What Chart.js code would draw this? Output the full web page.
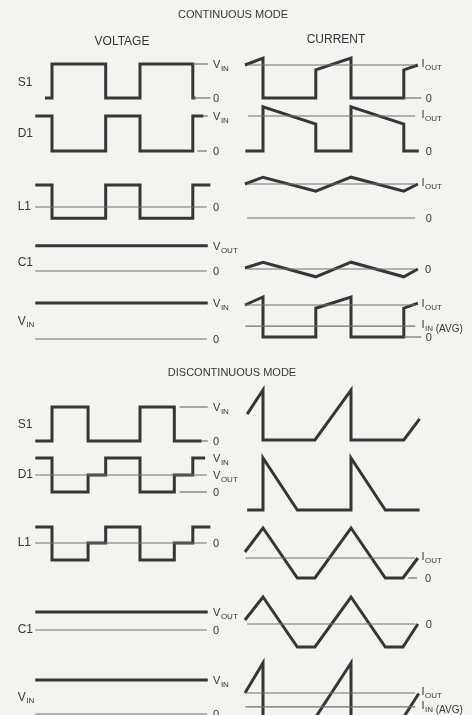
<!DOCTYPE html>
<html>
<head>
<meta charset="utf-8">
<script src="https://cdn.jsdelivr.net/npm/chart.js@4.4.1/dist/chart.umd.min.js"></script>
<style>
  html, body { margin: 0; padding: 0; background: #f3f3f1; }
  #wave { display: block; }
</style>
</head>
<body>
<canvas id="wave" width="472" height="715"></canvas>
<script>
// time axis: one switching period = 1, t = 0 at the switch turn-off edge
// voltages in units of V_IN, currents in units of I_OUT

// ---- continuous mode, voltage ----
const ccmS1V  = [[-0.08,0],[0,0],[0,1],[0.61,1],[0.61,0],[1,0],[1,1],[1.6,1],[1.6,0],[1.63,0]];
const ccmD1V  = [[-0.19,1],[0,1],[0,0],[0.61,0],[0.61,1],[1,1],[1,0],[1.6,0],[1.6,1],[1.72,1]];
const ccmL1V  = [[-0.19,0.65],[0,0.65],[0,-0.33],[0.61,-0.33],[0.61,0.65],[1,0.65],[1,-0.33],[1.6,-0.33],[1.6,0.65],[1.8,0.65]];
const ccmC1V  = [[-0.19,0.74],[1.77,0.74]];
const ccmVinV = [[-0.19,1],[1.77,1]];

// ---- continuous mode, current ----
const ccmS1I  = [[-0.205,1],[0,1.21],[0,0],[0.6,0],[0.6,0.85],[1,1.21],[1,0],[1.6,0],[1.6,0.85],[1.76,1]];
const ccmD1I  = [[-0.2,0],[0,0],[0,1.26],[0.6,0.77],[0.6,0],[1,0],[1,1.26],[1.6,0.77],[1.6,0],[1.77,0]];
const ccmL1I  = [[-0.205,1],[0,1.2],[0.6,0.79],[1,1.2],[1.6,0.79],[1.76,1]];
const ccmC1I  = [[-0.205,0.03],[0,0.2],[0.6,-0.23],[1,0.2],[1.6,-0.23],[1.76,0]];
const ccmVinI = [[-0.205,1],[0,1.25],[0,0],[0.6,0],[0.6,0.9],[1,1.25],[1,0],[1.6,0],[1.6,0.9],[1.76,1.06]];

// ---- discontinuous mode, voltage ----
const dcmS1V  = [[-0.19,0],[0,0],[0,1],[0.41,1],[0.41,0],[1,0],[1,1],[1.39,1],[1.39,0],[1.7,0]];
const dcmD1V  = [[-0.19,1],[0,1],[0,0],[0.41,0],[0.41,0.5],[0.61,0.5],[0.61,1],[1,1],[1,0],[1.39,0],[1.39,0.5],[1.6,0.5],[1.6,1],[1.74,1]];
const dcmL1V  = [[-0.19,0.47],[0,0.47],[0,-0.5],[0.41,-0.5],[0.41,0],[0.61,0],[0.61,0.47],[1,0.47],[1,-0.5],[1.39,-0.5],[1.39,0],[1.6,0],[1.6,0.47],[1.8,0.47]];
const dcmC1V  = [[-0.19,0.53],[1.77,0.53]];
const dcmVinV = [[-0.19,1],[1.77,1]];

// ---- discontinuous mode, current ----
const dcmS1I  = [[-0.18,0.76],[0,1.47],[0,0],[0.59,0],[1,1.47],[1,0],[1.6,0],[1.78,0.62]];
const dcmD1I  = [[-0.18,0],[0,0],[0,1.53],[0.39,0],[1,0],[1,1.53],[1.39,0],[1.78,0]];
const dcmL1I  = [[-0.205,1.3],[0,2.5],[0.39,0],[0.59,0],[1,2.5],[1.39,0],[1.59,0],[1.76,1]];
const dcmC1I  = [[-0.205,0.2],[0,1.35],[0.39,-1.15],[0.59,-1.15],[1,1.35],[1.39,-1.15],[1.59,-1.15],[1.76,0]];
const dcmVinI = [[-0.205,1],[0,2.25],[0,0],[0.6,0],[1,2.25],[1,0],[1.6,0],[1.77,0.98]];

// reference levels
const iInAvgCcm = 0.34;
const iInAvgDcm = 0.42;

const INK = '#363636';
const THIN = '#707070';
const FONT = '"Liberation Sans Narrow", "Liberation Sans", Arial, sans-serif';

const W = 472, H = 715;
const PERIOD_PX = 88;
const colStart = { xL: 52, xR: 263 };   // where t = 0 falls in each column
const tagT = { xL: 1.83, xR: 1.8 };
const rowLabelT = -0.39;

// tag helpers
const V = (sub, level) => ({ text: 'V', sub, level });
const I = (sub, level, tail) => ({ text: 'I', sub, level, tail });
const Z = (level = 0, dt = 0) => ({ text: '0', level, dt });

// panel layout: zero = pixel row of level 0, unit = pixels per unit
const panels = [
  // continuous, voltage column
  { id: 'cS1v', col: 'xL', zero: 98,  unit: 34, trace: ccmS1V, refs: [[1,1.6,1.77],[0,1.6,1.8]], tags: [V('IN',1), Z()], row: ['S1', null, 0.45] },
  { id: 'cD1v', col: 'xL', zero: 151, unit: 35, trace: ccmD1V, refs: [[1,1.72,1.77],[0,1.65,1.76]], tags: [V('IN',1), Z()], row: ['D1', null, 0.5] },
  { id: 'cL1v', col: 'xL', zero: 207, unit: 34, trace: ccmL1V, refs: [[0,-0.19,1.76]], tags: [Z()], row: ['L1', null, 0] },
  { id: 'cC1v', col: 'xL', zero: 271, unit: 34, trace: ccmC1V, refs: [[0,-0.19,1.76]], tags: [V('OUT',0.74), Z()], row: ['C1', null, 0.24] },
  { id: 'cVIv', col: 'xL', zero: 339, unit: 36, trace: ccmVinV, refs: [[0,-0.19,1.76]], tags: [V('IN',1), Z()], row: ['V', 'IN', 0.47] },
  // continuous, current column
  { id: 'cS1i', col: 'xR', zero: 98,  unit: 33, trace: ccmS1I, refs: [[1,-0.17,1.73],[0,1.6,1.8]], tags: [I('OUT',1), Z(0,0.05)] },
  { id: 'cD1i', col: 'xR', zero: 151, unit: 35, trace: ccmD1I, refs: [[1,-0.17,1.73]], tags: [I('OUT',1), Z(0,0.05)] },
  { id: 'cL1i', col: 'xR', zero: 218, unit: 34, trace: ccmL1I, refs: [[1,-0.17,1.73],[0,-0.18,1.73]], tags: [I('OUT',1), Z(0,0.05)] },
  { id: 'cC1i', col: 'xR', zero: 269, unit: 34, trace: ccmC1I, refs: [[0,-0.18,1.73]], tags: [Z(0,0.04)] },
  { id: 'cVIi', col: 'xR', zero: 337, unit: 32, trace: ccmVinI, refs: [[1,-0.2,1.73],[iInAvgCcm,-0.2,1.73],[0,1.6,1.8]], tags: [I('OUT',1), I('IN',iInAvgCcm,' (AVG)'), Z(0,0.05)] },
  // discontinuous, voltage column
  { id: 'dS1v', col: 'xL', zero: 441, unit: 34, trace: dcmS1V, refs: [[1,1.45,1.77],[0,1.7,1.77]], tags: [V('IN',1), Z()], row: ['S1', null, 0.47] },
  { id: 'dD1v', col: 'xL', zero: 492, unit: 34, trace: dcmD1V, refs: [[0.5,-0.19,1.76],[0,1.45,1.76]], tags: [V('IN',1), V('OUT',0.5), Z()], row: ['D1', null, 0.5] },
  { id: 'dL1v', col: 'xL', zero: 543, unit: 34, trace: dcmL1V, refs: [[0,-0.19,1.76]], tags: [Z()], row: ['L1', null, 0] },
  { id: 'dC1v', col: 'xL', zero: 630, unit: 34, trace: dcmC1V, refs: [[0,-0.19,1.76]], tags: [V('OUT',0.53), Z()], row: ['C1', null, 0] },
  { id: 'dVIv', col: 'xL', zero: 714, unit: 34, trace: dcmVinV, refs: [[0,-0.19,1.76]], tags: [V('IN',1), Z()], row: ['V', 'IN', 0.47] },
  // discontinuous, current column
  { id: 'dS1i', col: 'xR', zero: 440, unit: 34, trace: dcmS1I, refs: [], tags: [] },
  { id: 'dD1i', col: 'xR', zero: 510, unit: 34, trace: dcmD1I, refs: [], tags: [] },
  { id: 'dL1i', col: 'xR', zero: 578, unit: 20, trace: dcmL1I, refs: [[1,-0.2,1.73],[0,1.65,1.75]], tags: [I('OUT',1), Z(0,0.04)] },
  { id: 'dC1i', col: 'xR', zero: 624, unit: 20, trace: dcmC1I, refs: [[0,-0.18,1.73]], tags: [Z(0,0.05)] },
  { id: 'dVIi', col: 'xR', zero: 717, unit: 24, trace: dcmVinI, refs: [[1,-0.2,1.73],[iInAvgDcm,-0.2,1.73]], tags: [I('OUT',1), I('IN',iInAvgDcm,' (AVG)')] }
];

const headings = [
  { text: 'CONTINUOUS MODE', x: 233, y: 15, size: 11 },
  { text: 'VOLTAGE', x: 122, y: 42, size: 12 },
  { text: 'CURRENT', x: 336, y: 40, size: 12 },
  { text: 'DISCONTINUOUS MODE', x: 232, y: 373, size: 11 }
];

const toXY = pts => pts.map(([x, y]) => ({ x, y }));

const datasets = [];
const scales = {};
for (const key of ['xL', 'xR']) {
  scales[key] = {
    type: 'linear', axis: 'x', display: false,
    min: -colStart[key] / PERIOD_PX,
    max: (W - colStart[key]) / PERIOD_PX
  };
}
panels.forEach(p => {
  scales[p.id] = {
    type: 'linear', axis: 'y', display: false,
    min: (p.zero - H) / p.unit,
    max: p.zero / p.unit
  };
  p.refs.forEach(([lvl, t0, t1]) => {
    datasets.push({
      data: toXY([[t0, lvl], [t1, lvl]]),
      xAxisID: p.col, yAxisID: p.id,
      borderColor: THIN, borderWidth: 1.2
    });
  });
  datasets.push({
    data: toXY(p.trace),
    xAxisID: p.col, yAxisID: p.id,
    borderColor: INK, borderWidth: 3
  });
});

function drawTag(ctx, x, y, text, sub, tail) {
  ctx.font = '11px ' + FONT;
  ctx.fillText(text, x, y);
  let w = ctx.measureText(text).width;
  if (sub) {
    ctx.font = '8px ' + FONT;
    ctx.fillText(sub, x + w + 0.5, y + 4);
    w += ctx.measureText(sub).width + 0.5;
  }
  if (tail) {
    ctx.font = '10px ' + FONT;
    ctx.fillText(tail, x + w, y + 4);
  }
}

const labelPlugin = {
  id: 'waveLabels',
  afterDatasetsDraw(chart) {
    const ctx = chart.ctx;
    ctx.save();
    ctx.fillStyle = INK;
    ctx.textBaseline = 'middle';
    ctx.textAlign = 'left';
    panels.forEach(p => {
      const xs = chart.scales[p.col];
      const ys = chart.scales[p.id];
      p.tags.forEach(tag => {
        const x = xs.getPixelForValue(tagT[p.col] + (tag.dt || 0));
        const y = ys.getPixelForValue(tag.level) + 1;
        if (tag.text === 'I') drawTag(ctx, x, y - 2, tag.text, tag.sub, tag.tail);
        else drawTag(ctx, x, y, tag.text, tag.sub, tag.tail);
      });
      if (p.row) {
        const [text, sub, lvl] = p.row;
        const x = xs.getPixelForValue(rowLabelT);
        const y = ys.getPixelForValue(lvl);
        ctx.font = '12px ' + FONT;
        ctx.fillText(text, x, y);
        if (sub) {
          const w = ctx.measureText(text).width;
          ctx.font = '8px ' + FONT;
          ctx.fillText(sub, x + w + 0.5, y + 3);
        }
      }
    });
    ctx.textAlign = 'center';
    headings.forEach(h => {
      ctx.font = h.size + 'px ' + FONT;
      ctx.fillText(h.text, h.x, h.y);
    });
    ctx.restore();
  }
};

new Chart(document.getElementById('wave').getContext('2d'), {
  type: 'line',
  data: { datasets },
  options: {
    responsive: false,
    animation: false,
    devicePixelRatio: 1,
    layout: { padding: 0 },
    elements: {
      point: { radius: 0, hoverRadius: 0 },
      line: { tension: 0, fill: false, borderJoinStyle: 'miter', borderCapStyle: 'butt' }
    },
    plugins: {
      legend: { display: false },
      tooltip: { enabled: false },
      title: { display: false }
    },
    events: [],
    scales
  },
  plugins: [labelPlugin]
});
</script>
</body>
</html>
